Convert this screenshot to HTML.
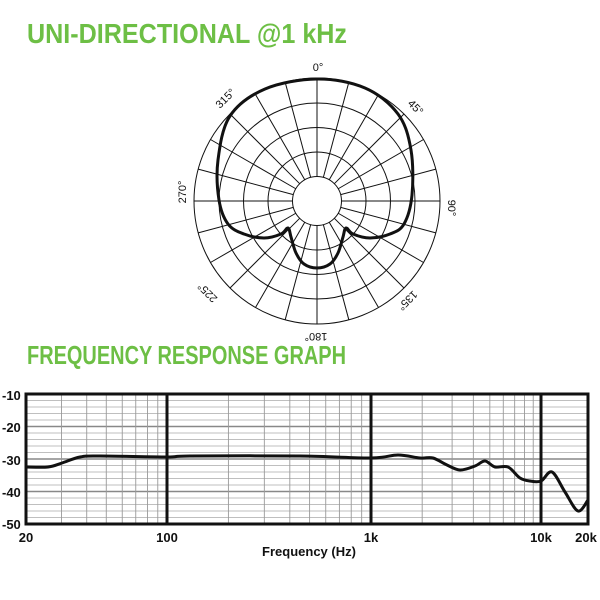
<!DOCTYPE html>
<html><head><meta charset="utf-8"><style>
html,body{margin:0;padding:0;background:#fff;}
svg{display:block;}
.t{font-family:"Liberation Sans Narrow","Liberation Sans",sans-serif;font-weight:bold;fill:#6dbf45;}
.a{font-family:"Liberation Sans Narrow","Liberation Sans",sans-serif;font-size:11px;fill:#111;}
.l{font-family:"Liberation Sans Narrow","Liberation Sans",sans-serif;font-weight:bold;font-size:13px;fill:#111;}
</style></head><body>
<svg id="s" width="600" height="600" viewBox="0 0 600 600" xmlns="http://www.w3.org/2000/svg">
<text class="t" x="27" y="43" font-size="28" textLength="320" lengthAdjust="spacingAndGlyphs">UNI-DIRECTIONAL @1 kHz</text>
<text class="t" x="27" y="364" font-size="26" textLength="319" lengthAdjust="spacingAndGlyphs">FREQUENCY RESPONSE GRAPH</text>
<g id="polar" fill="none" stroke="#111" stroke-width="1"></g>
<text class="a" x="318" y="71" text-anchor="middle">0°</text>
<text class="a" transform="translate(413,110) rotate(45)" text-anchor="middle">45°</text>
<text class="a" transform="translate(448,208) rotate(90)" text-anchor="middle">90°</text>
<text class="a" transform="translate(405,298) rotate(135)" text-anchor="middle">135°</text>
<text class="a" transform="translate(316,333) rotate(180)" text-anchor="middle">180°</text>
<text class="a" transform="translate(210,290) rotate(225)" text-anchor="middle">225°</text>
<text class="a" transform="translate(186,192) rotate(270)" text-anchor="middle">270°</text>
<text class="a" transform="translate(228,101) rotate(315)" text-anchor="middle">315°</text>
<g id="grid"></g>
<text class="l" x="2" y="400">-10</text>
<text class="l" x="2" y="432">-20</text>
<text class="l" x="2" y="465">-30</text>
<text class="l" x="2" y="497">-40</text>
<text class="l" x="2" y="529">-50</text>
<text class="l" x="26" y="542" text-anchor="middle">20</text>
<text class="l" x="167" y="542" text-anchor="middle">100</text>
<text class="l" x="371" y="542" text-anchor="middle">1k</text>
<text class="l" x="541" y="542" text-anchor="middle">10k</text>
<text class="l" x="586" y="542" text-anchor="middle">20k</text>
<text class="l" x="309" y="556" text-anchor="middle" font-size="11">Frequency (Hz)</text>
</svg>
<script>
var NS="http://www.w3.org/2000/svg";
function el(p,t,a){var e=document.createElementNS(NS,t);for(var k in a)e.setAttribute(k,a[k]);p.appendChild(e);return e;}
function cr(pts,closed){var n=pts.length,d="M"+pts[0][0]+","+pts[0][1];var m=closed?n:n-1;
for(var i=0;i<m;i++){var p0=pts[(i-1+n)%n],p1=pts[i],p2=pts[(i+1)%n],p3=pts[(i+2)%n];
if(!closed){if(i==0)p0=p1;if(i+2>=n)p3=p2;}
d+=" C"+(p1[0]+(p2[0]-p0[0])/6).toFixed(1)+","+(p1[1]+(p2[1]-p0[1])/6).toFixed(1)+" "+(p2[0]-(p3[0]-p1[0])/6).toFixed(1)+","+(p2[1]-(p3[1]-p1[1])/6).toFixed(1)+" "+p2[0]+","+p2[1];}
return d+(closed?"Z":"");}
var g=document.getElementById("polar"),cx=317,cy=201;
[24.5,49,73.5,98,123].forEach(function(r){el(g,"circle",{cx:cx,cy:cy,r:r});});
for(var a=0;a<360;a+=15){var t=a*Math.PI/180;el(g,"line",{x1:cx+24.5*Math.sin(t),y1:cy-24.5*Math.cos(t),x2:cx+123*Math.sin(t),y2:cy-123*Math.cos(t)});}
var pp=[[317,79],[365,88],[398,114],[411,150],[412,195],[404,224],[390,234],[370,238],[353,234],[346,228],[343,237],[338,253],[330,264],[317,268],[304,264],[296,253],[291,237],[288,228],[281,234],[264,238],[244,234],[228,224],[219,200],[218,160],[230,116],[265,89]];
el(g,"path",{d:cr(pp,true),"stroke-width":3});
var G=document.getElementById("grid");
var L=26,R=588,T=394,B=524;
for(var i=0;i<=20;i++){var y=T+i*(B-T)/20;el(G,"line",{x1:L,x2:R,y1:y,y2:y,stroke:i%5==0?"#888":"#aaa","stroke-width":i%5==0?1.4:0.8});}
var dec=[[20,26],[100,167],[1000,371],[10000,541],[20000,588]];
function fx(f){for(var i=0;i<dec.length-1;i++){var a=dec[i],b=dec[i+1];if(f<=b[0])return a[1]+(Math.log(f/a[0])/Math.log(b[0]/a[0]))*(b[1]-a[1]);}return R;}
[20,100,1000,10000].forEach(function(base,k){for(var m=2;m<10;m++){var f=(base==20?10:base)*m;if(f<=20||f>=20000)continue;if(base==20&&f>=100)continue;var x=fx(f);el(G,"line",{x1:x,x2:x,y1:T,y2:B,stroke:"#999","stroke-width":0.9});}});
[167,371,541].forEach(function(x){el(G,"line",{x1:x,x2:x,y1:T,y2:B,stroke:"#111","stroke-width":3});});
el(G,"rect",{x:L,y:T,width:R-L,height:B-T,fill:"none",stroke:"#111","stroke-width":3});
var fp=[[26,467],[48,467],[62,463],[80,457],[100,456],[167,457],[190,456],[300,456],[371,458],[398,455],[420,458],[433,458],[447,465],[460,470],[475,466],[485,461],[495,467],[508,467],[520,478],[530,481],[541,481],[552,472],[565,492],[578,511],[588,500]];
el(G,"path",{d:cr(fp,false),fill:"none",stroke:"#111","stroke-width":3});
</script>
</body></html>
